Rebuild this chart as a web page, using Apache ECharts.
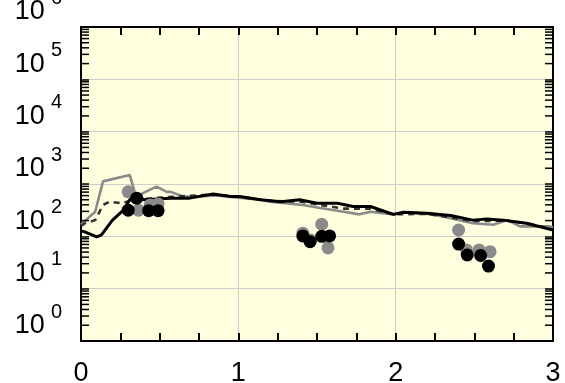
<!DOCTYPE html>
<html>
<head>
<meta charset="utf-8">
<script src="https://cdn.jsdelivr.net/npm/echarts@6/dist/echarts.min.js"></script>
<style>
html,body{margin:0;padding:0;background:#fff;}
#chart{width:565px;height:383px;}
</style>
</head>
<body>
<div id="chart"></div>
<script>
// x tick labels and y tick labels (10^k)
const xTickValues = [0, 1, 2, 3];
const yTickValues = [1, 10, 100, 1000, 10000, 100000, 1000000];
const yTickExponents = ['0', '1', '2', '3', '4', '5', '6'];
const yMinorMultipliers = [2, 3, 4, 5, 6, 7, 8, 9];

// gray solid line
const grayLine = [[0,166],[0.02,191],[0.09,295],[0.14,1122],[0.31,1479],[0.35,575],[0.41,708],[0.48,891],[0.545,708],[0.57,708],[0.65,575],[0.71,575],[0.86,603],[1.0,550],[1.14,501],[1.2,457],[1.41,398],[1.52,347],[1.67,295],[1.77,263],[1.84,295],[1.985,263],[2.05,288],[2.2,269],[2.3,240],[2.49,178],[2.62,166],[2.71,204],[2.79,155],[2.98,155],[3.0,148]];
// black dashed line
const blackDashed = [[0,158],[0.025,178],[0.09,204],[0.14,398],[0.18,457],[0.26,427],[0.33,501],[0.46,537],[0.61,575],[0.84,631],[1.01,562],[1.2,479],[1.4,457],[1.52,398],[1.67,339],[1.84,339],[1.985,263],[2.2,269],[2.49,195],[2.7,200],[2.85,174],[3.0,135]];
// black solid line
const blackSolid = [[0,126],[0.02,123],[0.1,98],[0.13,107],[0.2,204],[0.27,316],[0.31,501],[0.35,575],[0.4,501],[0.566,537],[0.69,537],[0.84,646],[0.95,575],[1.01,575],[1.14,501],[1.27,457],[1.39,501],[1.5,427],[1.63,427],[1.73,372],[1.84,372],[1.985,263],[2.05,288],[2.2,275],[2.35,251],[2.49,204],[2.58,214],[2.685,204],[2.83,178],[3.0,132]];
// scatter points
const grayPoints = [[0.30,708],[0.365,316],[0.44,398],[0.49,417],[1.41,115],[1.46,85],[1.53,170],[1.57,60],[2.40,132],[2.45,55],[2.53,55],[2.60,51]];
const blackPoints = [[0.30,316],[0.354,537],[0.43,309],[0.49,309],[1.41,102],[1.456,79],[1.53,100],[1.58,102],[2.40,71],[2.455,44],[2.54,43],[2.59,27]];

const FONT = '"Liberation Sans", Arial, sans-serif';
const GRAY = '#8a8a8a';
const X_MIN = 0, X_MAX = 3;

// log minor tick positions (2..9 x 10^k) for the left/right frame
const yMinorTicks = [];
for (let i = 0; i < yTickValues.length - 1; i++) {
  for (const m of yMinorMultipliers) yMinorTicks.push([X_MIN, yTickValues[i] * m]);
}

const chart = echarts.init(document.getElementById('chart'), null, {renderer: 'canvas'});

const axisLineStyle = {show: true, onZero: false, lineStyle: {color: '#000', width: 2}};

function yLabel(v) {
  let idx = -1;
  for (let i = 0; i < yTickValues.length; i++) {
    if (Math.abs(v - yTickValues[i]) / yTickValues[i] < 1e-6) idx = i;
  }
  if (idx < 0) return '';
  return '{b|10}{s|' + yTickExponents[idx] + '}';
}
function xLabel(v) {
  for (let i = 0; i < xTickValues.length; i++) {
    if (Math.abs(v - xTickValues[i]) < 1e-9) return String(xTickValues[i]);
  }
  return '';
}

const TICK_LEN = 8;
function renderMinorTick(params, api) {
  const v = api.value(1);
  const pl = api.coord([X_MIN, v]);
  const pr = api.coord([X_MAX, v]);
  const style = {stroke: '#000', lineWidth: 1.5};
  return {
    type: 'group',
    children: [
      {type: 'line', shape: {x1: pl[0], y1: pl[1], x2: pl[0] + TICK_LEN, y2: pl[1]}, style: style},
      {type: 'line', shape: {x1: pr[0], y1: pr[1], x2: pr[0] - TICK_LEN, y2: pr[1]}, style: style}
    ]
  };
}

const option = {
  animation: false,
  backgroundColor: '#ffffff',
  grid: {
    left: 81, right: 12, top: 27, bottom: 42,
    outerBoundsMode: 'none', containLabel: false,
    show: true, backgroundColor: '#ffffe0', borderWidth: 0
  },
  xAxis: [
    {
      type: 'value', min: X_MIN, max: X_MAX, interval: 1, position: 'bottom',
      axisLine: axisLineStyle,
      axisTick: {show: true, inside: true, length: TICK_LEN, lineStyle: {color: '#000', width: 2}},
      minorTick: {show: true, splitNumber: 4, length: TICK_LEN, lineStyle: {color: '#000', width: 2}},
      splitLine: {show: true, lineStyle: {color: '#cccccc', width: 1}},
      axisLabel: {show: true, margin: 19, fontSize: 27, color: '#000', fontFamily: FONT, formatter: xLabel}
    },
    {
      type: 'value', min: X_MIN, max: X_MAX, interval: 1, position: 'top',
      axisLine: axisLineStyle,
      axisTick: {show: true, inside: true, length: TICK_LEN, lineStyle: {color: '#000', width: 2}},
      minorTick: {show: true, splitNumber: 4, length: TICK_LEN, lineStyle: {color: '#000', width: 2}},
      splitLine: {show: false},
      axisLabel: {show: false}
    }
  ],
  yAxis: [
    {
      type: 'log', logBase: 10, min: 1, max: 1000000, position: 'left',
      axisLine: axisLineStyle,
      axisTick: {show: true, inside: true, length: TICK_LEN, lineStyle: {color: '#000', width: 1.5}},
      minorTick: {show: false},
      splitLine: {show: true, lineStyle: {color: '#cccccc', width: 1}},
      axisLabel: {
        show: true, margin: 19, color: '#000', fontFamily: FONT,
        verticalAlign: 'bottom', showMinLabel: true, showMaxLabel: true,
        padding: [0, 0, 13, 0],
        formatter: yLabel,
        rich: {
          b: {fontSize: 27, lineHeight: 18, fontFamily: FONT, color: '#000', padding: [13.5, 0, 0, 0]},
          s: {fontSize: 20, lineHeight: 18, fontFamily: FONT, color: '#000', padding: [0, 0, 13.5, 6]}
        }
      }
    },
    {
      type: 'log', logBase: 10, min: 1, max: 1000000, position: 'right',
      axisLine: axisLineStyle,
      axisTick: {show: true, inside: true, length: TICK_LEN, lineStyle: {color: '#000', width: 1.5}},
      minorTick: {show: false},
      splitLine: {show: false},
      axisLabel: {show: false}
    }
  ],
  series: [
    {
      name: 'minorTicks', type: 'custom', data: yMinorTicks, renderItem: renderMinorTick,
      silent: true, clip: false, z: 10
    },
    {
      name: 'gray', type: 'line', data: grayLine, showSymbol: false, symbol: 'none',
      lineStyle: {color: GRAY, width: 2.6}, z: 2
    },
    {
      name: 'dashed', type: 'line', data: blackDashed, showSymbol: false, symbol: 'none',
      lineStyle: {color: '#333', width: 2.6, type: [6, 5]}, z: 3
    },
    {
      name: 'black', type: 'line', data: blackSolid, showSymbol: false, symbol: 'none',
      lineStyle: {color: '#000', width: 3}, z: 4
    },
    {
      name: 'grayPts', type: 'scatter', data: grayPoints, symbol: 'circle', symbolSize: 13,
      itemStyle: {color: GRAY, opacity: 1}, z: 5
    },
    {
      name: 'blackPts', type: 'scatter', data: blackPoints, symbol: 'circle', symbolSize: 13,
      itemStyle: {color: '#000', opacity: 1}, z: 6
    }
  ]
};
chart.setOption(option);
</script>
</body>
</html>
